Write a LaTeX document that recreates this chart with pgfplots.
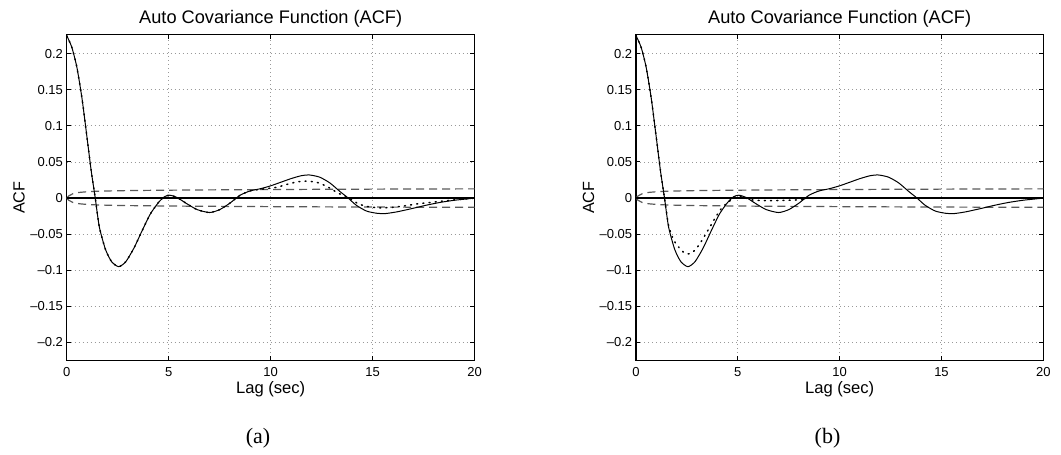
\documentclass[border=0pt]{standalone}
\usepackage{fontspec}
\usepackage{pgfplots}
\usepackage{pgfplotstable}
\pgfplotsset{compat=1.18}
\newfontfamily\helv{Liberation Sans}
\newfontfamily\capfont{Liberation Serif}

\pgfplotstableread{
x y
0 0.225
0.25 0.209
0.5 0.181
0.75 0.138
1.0 0.083
1.2 0.038
1.4 0.0
1.6 -0.040
1.9 -0.071
2.2 -0.088
2.55 -0.095
2.9 -0.088
3.3 -0.069
3.7 -0.045
4.1 -0.022
4.5 -0.006
4.8 0.002
5.05 0.004
5.4 0.001
5.9 -0.008
6.4 -0.016
7.0 -0.020
7.5 -0.016
8.0 -0.007
8.5 0.004
9.0 0.010
9.5 0.013
10.0 0.017
10.5 0.022
11.0 0.027
11.5 0.031
11.9 0.032
12.4 0.029
12.9 0.021
13.4 0.009
13.8 0.0
14.2 -0.010
14.7 -0.018
15.2 -0.021
15.6 -0.0215
16.2 -0.019
17.0 -0.014
17.6 -0.0100
18.3 -0.006
19.0 -0.003
19.5 -0.0015
20 0
}\soltab

\pgfplotstableread{
x y
0 0.225
0.25 0.209
0.5 0.181
0.75 0.138
1.0 0.083
1.2 0.038
1.4 0.0
1.6 -0.040
1.9 -0.071
2.2 -0.088
2.55 -0.095
2.9 -0.088
3.3 -0.069
3.7 -0.045
4.1 -0.022
4.5 -0.006
4.8 0.002
5.05 0.004
5.4 0.001
5.9 -0.008
6.4 -0.016
7.0 -0.020
7.5 -0.016
8.0 -0.007
8.5 0.004
9.0 0.010
9.4 0.0118
9.8 0.0132
10.3 0.0150
10.8 0.0190
11.3 0.0225
11.8 0.0235
12.3 0.0215
12.8 0.0155
13.3 0.0070
13.85 0.0
14.3 -0.0080
14.8 -0.0120
15.3 -0.0134
15.8 -0.0132
16.5 -0.0110
17.2 -0.0080
18.0 -0.0055
19.0 -0.0025
20 0
}\dotatab

\pgfplotstableread{
x y
0 0.225
0.25 0.209
0.5 0.181
0.75 0.138
1.0 0.083
1.2 0.038
1.4 0.0
1.6 -0.038
1.85 -0.058
2.1 -0.068
2.4 -0.0765
2.65 -0.077
2.9 -0.072
3.15 -0.0625
3.4 -0.051
3.65 -0.039
3.9 -0.027
4.15 -0.016
4.4 -0.0085
4.65 -0.003
4.9 0.002
5.1 0.003
5.4 0.0
5.8 -0.003
6.5 -0.0035
7.5 -0.003
8.3 -0.002
9 0
20 0
}\dotbtab

\pgfplotstableread{
x y
0 0
0.1 0.003
0.3 0.006
0.6 0.0078
1.0 0.0088
1.5 0.0095
2.5 0.0102
4 0.0107
6 0.0112
9 0.0117
12 0.0121
16 0.0125
20 0.0128
}\upbnd

\pgfplotstableread{
x y
0 0
0.1 -0.003
0.3 -0.006
0.6 -0.0078
1.0 -0.0088
1.5 -0.0095
2.5 -0.0102
4 -0.0107
6 -0.0112
9 -0.0117
12 -0.0121
16 -0.0125
20 -0.0128
}\lowbnd

\pgfplotsset{
  every axis title/.style={font=\helv\fontsize{9.1}{10}\selectfont, at={(axis description cs:0.5,1)}, anchor=base, yshift=5.6pt, inner sep=0pt},
  every axis x label/.style={font=\helv\fontsize{8.3}{9}\selectfont, at={(axis description cs:0.5,0)}, anchor=base, yshift=-16.2pt, inner sep=0pt},
  every axis y label/.style={font=\helv\fontsize{8.1}{9}\selectfont, at={(axis description cs:-0.1167,0.5)}, anchor=center, rotate=90, inner sep=0pt},
  acfstyle/.style={
    scale only axis,
    anchor=south west,
    width=204pt, height=163pt,
    xmin=0, xmax=20, ymin=-0.2252, ymax=0.2263,
    axis line style={line width=0.75pt},
    xtick={0,5,10,15,20},
    xticklabels={0,5,10,15,20},
    ytick={-0.2,-0.15,-0.1,-0.05,0,0.05,0.1,0.15,0.2},
    yticklabels={–0.2,–0.15,–0.1,–0.05,0,0.05,0.1,0.15,0.2},
    tick align=inside, tickpos=both,
    major tick length=2.2pt,
    tick style={line width=0.5pt, black},
    grid=major,
    major grid style={gray!80, line width=0.4pt, dash pattern=on 0.4pt off 1.6pt},
    ticklabel style={font=\helv\fontsize{6.5}{7}\selectfont},
    xticklabel style={anchor=base, yshift=-7.8pt, inner sep=0pt},
    yticklabel style={anchor=east, xshift=-1.7pt, inner sep=0pt},
    title={Auto Covariance Function (ACF)},
    xlabel={Lag (sec)},
    ylabel={ACF},
    clip=true,
  },
  bnd/.style={color=black!65, line width=0.6pt, dash pattern=on 4pt off 2.5pt},
  zer/.style={black, line width=1.1pt},
  sol/.style={black, line width=0.5pt},
  dts/.style={black, line width=0.75pt, dash pattern=on 0.5pt off 2.6pt, line cap=round},
}

\begin{document}
\begin{tikzpicture}
\useasboundingbox (0,0) rectangle (530.5pt,227.5pt);
\begin{axis}[acfstyle, at={(33.35pt,47.15pt)}]
  \addplot[bnd] table[x=x,y=y] {\upbnd};
  \addplot[bnd] table[x=x,y=y] {\lowbnd};
  \addplot[zer] coordinates {(0,0) (20,0)};
  \addplot[sol, smooth, tension=0.4] table[x=x,y=y] {\soltab};
  \addplot[dts, smooth, tension=0.4] table[x=x,y=y] {\dotatab};
\end{axis}
\begin{axis}[acfstyle, at={(318pt,47.15pt)}, width=203.65pt]
  \addplot[bnd] table[x=x,y=y] {\upbnd};
  \addplot[bnd] table[x=x,y=y] {\lowbnd};
  \addplot[zer] coordinates {(0,0) (20,0)};
  \addplot[sol, smooth, tension=0.4] table[x=x,y=y] {\soltab};
  \addplot[dts, smooth, tension=0.4] table[x=x,y=y] {\dotbtab};
\end{axis}
\node[font=\capfont\fontsize{11}{12}\selectfont, anchor=center, inner sep=0pt] at (129pt,8.35pt) {(a)};
\node[font=\capfont\fontsize{11}{12}\selectfont, anchor=center, inner sep=0pt] at (413.75pt,8.35pt) {(b)};
\end{tikzpicture}
\end{document}
